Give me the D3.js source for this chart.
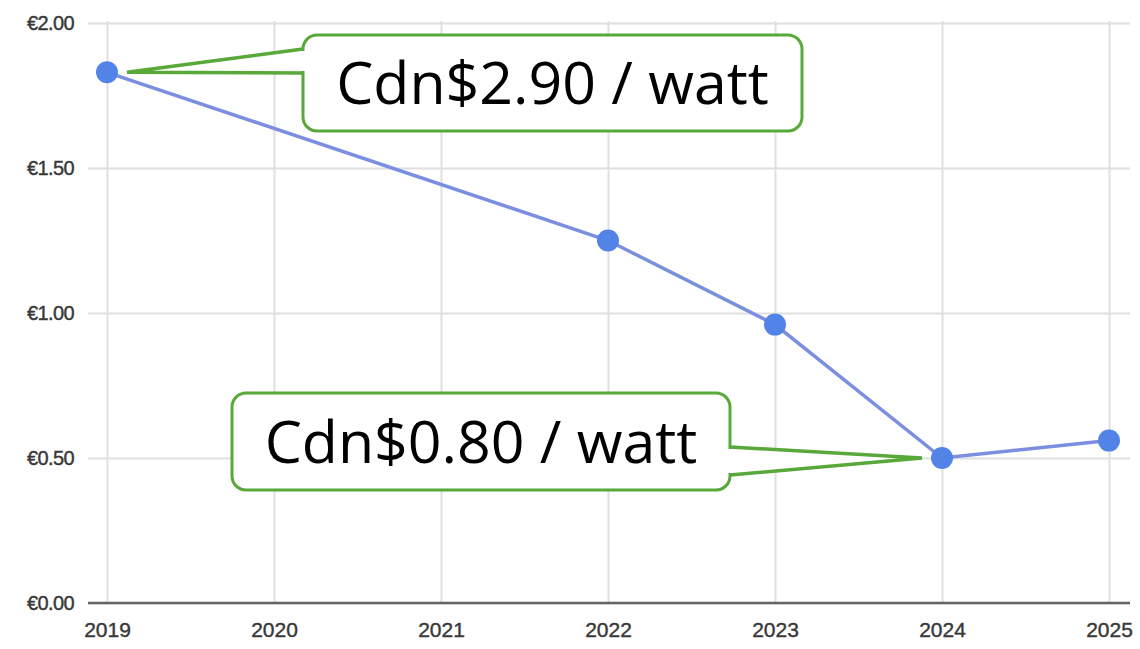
<!DOCTYPE html>
<html>
<head>
<meta charset="utf-8">
<script src="https://cdn.jsdelivr.net/npm/d3@7"></script>
<style>
  body { margin: 0; background: #fff; }
  svg { display: block; }
</style>
</head>
<body>
<svg id="svg" width="1140" height="649"></svg>
<script>
// chart data
const years = [2019, 2022, 2023, 2024, 2025];
const prices = [1.83, 1.25, 0.96, 0.50, 0.56];
const yearTicks = [2019, 2020, 2021, 2022, 2023, 2024, 2025];
const priceTicks = [0, 0.5, 1.0, 1.5, 2.0];
const calloutTexts = ['Cdn$2.90 / watt', 'Cdn$0.80 / watt'];
const calloutYears = [2019, 2024];

const svg = d3.select('#svg');
const plotLeft = 107, plotRight = 1109, plotTop = 23, plotBottom = 603;

let x = d3.scaleLinear().domain([2019, 2025]).range([plotLeft, plotRight]);
let y = d3.scaleLinear().domain([0, 2]).range([plotBottom, plotTop]);

// horizontal grid + y labels
svg.append('g')
    .attr('transform', 'translate(' + 88 + ',0)')
    .call(d3.axisLeft(y).tickValues(priceTicks)
        .tickSize(-(1130 - 88))
        .tickFormat(d => '€' + d.toFixed(2)))
    .call(g => g.select('.domain').remove())
    .call(g => g.selectAll('.tick line').attr('stroke', '#e0e0e0').attr('stroke-width', 2))
    .call(g => g.selectAll('.tick text')
        .attr('x', -14)
        .attr('fill', '#383838')
        .attr('stroke', '#383838')
        .attr('stroke-width', 0.4)
        .style('font-family', 'Liberation Sans, Arial, sans-serif')
        .style('font-size', '20px')
        .style('letter-spacing', '-0.6px'));

// vertical grid + x labels
svg.append('g')
    .attr('transform', 'translate(0,' + plotBottom + ')')
    .call(d3.axisBottom(x).tickValues(yearTicks)
        .tickSize(-(plotBottom - plotTop + 2))
        .tickFormat(d3.format('d')))
    .call(g => g.select('.domain').remove())
    .call(g => g.selectAll('.tick line').attr('stroke', '#e0e0e0').attr('stroke-width', 2))
    .call(g => g.selectAll('.tick text')
        .attr('y', 19)
        .attr('fill', '#383838')
        .attr('stroke', '#383838')
        .attr('stroke-width', 0.4)
        .style('font-family', 'Liberation Sans, Arial, sans-serif')
        .style('font-size', '21px'));

// baseline
svg.append('line')
    .attr('x1', 88).attr('x2', 1130)
    .attr('y1', y(0)).attr('y2', y(0))
    .attr('stroke', '#666')
    .attr('stroke-width', 2.5);

// price line
let line = d3.line()
    .x((d, i) => x(years[i]))
    .y(d => y(d));

svg.append('path')
    .datum(prices)
    .attr('d', line)
    .attr('fill', 'none')
    .attr('stroke', '#7b8ee0')
    .attr('stroke-width', 3.5);

svg.selectAll('circle.pt')
    .data(prices)
    .enter().append('circle')
    .attr('class', 'pt')
    .attr('cx', (d, i) => x(years[i]))
    .attr('cy', d => y(d))
    .attr('r', 11)
    .attr('fill', '#5284e8');

// callouts
const green = '#58a83a';
function callout(text, px, py, bx, by, bw, bh, side) {
    let g = svg.append('g');
    let r = 14;
    let edge = side === 'left' ? bx : bx + bw;
    let tip = side === 'left' ? px + 20 : px - 20;
    // wedge pointer
    let yTop = side === 'left' ? by + 14 : by + 54;
    let yBot = side === 'left' ? by + 38 : by + 82;
    g.append('path')
        .attr('d', 'M' + edge + ',' + yTop + ' L' + tip + ',' + py + ' L' + edge + ',' + yBot)
        .attr('fill', '#fff')
        .attr('stroke', green)
        .attr('stroke-width', 3.5)
        .attr('stroke-linejoin', 'miter');
    g.append('rect')
        .attr('x', bx).attr('y', by)
        .attr('width', bw).attr('height', bh)
        .attr('rx', r)
        .attr('fill', '#fff')
        .attr('stroke', green)
        .attr('stroke-width', 3);
    // cover the box border where the wedge joins
    g.append('line')
        .attr('x1', edge).attr('x2', edge)
        .attr('y1', yTop + 2).attr('y2', yBot - 2)
        .attr('stroke', '#fff')
        .attr('stroke-width', 5);
    g.append('text')
        .attr('x', bx + bw / 2)
        .attr('y', by + bh / 2 + 21)
        .attr('text-anchor', 'middle')
        .style('font-family', 'Open Sans, Noto Sans, sans-serif')
        .style('font-size', '59px')
        .attr('fill', '#000')
        .text(text);
}

callout(calloutTexts[0], x(calloutYears[0]), y(prices[0]), 303, 35, 499, 96, 'left');
callout(calloutTexts[1], x(calloutYears[1]), y(prices[3]), 232, 393, 498, 97, 'right');
</script>
</body>
</html>
